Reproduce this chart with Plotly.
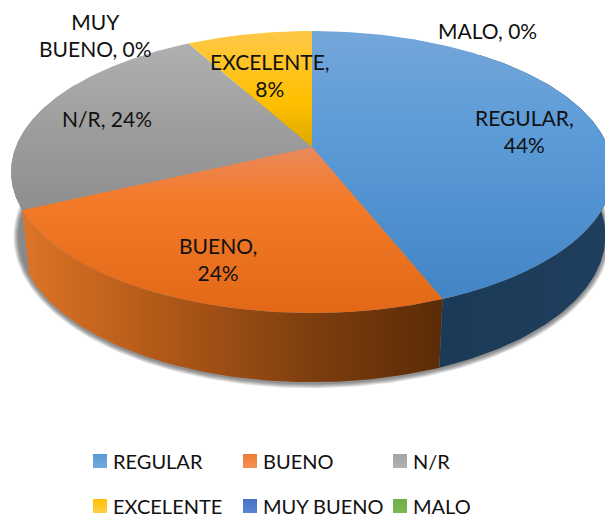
import numpy as np
import plotly.graph_objects as go

categories = ["REGULAR", "BUENO", "N/R", "EXCELENTE", "MUY BUENO", "MALO"]
values = [44, 24, 24, 8, 0, 0]

legend_colors = ["#5b9bd5", "#ed7d31", "#a5a5a5", "#ffc000", "#4472c4", "#70ad47"]
legend_tops = ["#6fa8dc", "#f4905a", "#b0b0b0", "#ffcf4a", "#5a85d0", "#7dba54"]

top_scales = {
    "REGULAR": [[0, "#74a6da"], [0.4, "#5b9bd7"], [1, "#4384c5"]],
    "BUENO": [[0, "#e98a5e"], [0.3, "#f37b2a"], [1, "#e26817"]],
    "N/R": [[0, "#b0b0b0"], [0.55, "#9c9c9c"], [1, "#8e8e8e"]],
    "EXCELENTE": [[0, "#ffc848"], [0.6, "#ffc000"], [1, "#dca900"]],
}
wall_scales = {
    "REGULAR": [[0, "#1b3a57"], [1, "#1f3f5e"]],
    "BUENO": [[0, "#de7426"], [0.35, "#ae5717"], [0.7, "#7c3d0e"], [1, "#5a2b08"]],
    "N/R": [[0, "#8c8c8c"], [1, "#7a7a7a"]],
}

# projection of the pie disc onto the page (pixel-like axes)
CX, APEX_Y, K, A, C = 312.0, 147.0, 296.2, -110.5, 0.1773
WALL_SX, WALL_SY, WALL_DY = 0.975, 1.039, 57.0


def project(theta):
    u, v = np.sin(theta), np.cos(theta)
    d = 1 + C * v
    return CX + K * u / d, (A * v + APEX_Y) / d


def lower(x, y):
    return CX + (x - CX) * WALL_SX, y * WALL_SY + WALL_DY


fig = go.Figure()

# soft shadow under the body
t = np.linspace(0, 2 * np.pi, 361)
bx, by = lower(*project(t))
bcx, bcy = (bx.min() + bx.max()) / 2, (by.min() + by.max()) / 2
rx, ry = (bx.max() - bx.min()) / 2, (by.max() - by.min()) / 2
for d in [5, 4, 3, 2, 1]:
    fig.add_trace(go.Scatter(
        x=bcx + (bx - bcx) * (rx + d) / rx, y=bcy + 1 + (by - bcy) * (ry + d) / ry,
        mode="lines", line=dict(width=0), fill="toself",
        fillcolor="rgba(40,40,40,0.13)", hoverinfo="skip", showlegend=False))

# slice angles from the data
total = sum(values)
edges = np.cumsum([0] + values) / total * 2 * np.pi

# side walls
for name, a0, a1 in zip(categories, edges[:-1], edges[1:]):
    if name not in wall_scales:
        continue
    lo = max(a0, np.radians(40))
    hi = min(a1, np.radians(300))
    th = np.linspace(lo, hi, 120)
    x, y = project(th)
    xb, yb = lower(x, y)
    px = np.r_[x, xb[::-1], x[0]]
    py = np.r_[y, yb[::-1], y[0]]
    fig.add_trace(go.Scatter(
        x=px, y=py, mode="lines", line=dict(width=0), fill="toself",
        fillgradient=dict(type="horizontal", colorscale=wall_scales[name],
                          start=float(px.min()), stop=float(px.max())),
        hoverinfo="skip", showlegend=False))

# top faces
for name, a0, a1 in zip(categories, edges[:-1], edges[1:]):
    if a1 <= a0:
        continue
    th = np.linspace(a0, a1, 200)
    x, y = project(th)
    px = np.r_[CX, x, CX]
    py = np.r_[APEX_Y, y, APEX_Y]
    fig.add_trace(go.Scatter(
        x=px, y=py, mode="lines", line=dict(width=0), fill="toself",
        fillgradient=dict(type="vertical", colorscale=top_scales[name],
                          start=float(py.min()), stop=float(py.max())),
        name=name, hoverinfo="skip", showlegend=False))

# legend entries, two rows
for i, name in enumerate(categories):
    fig.add_trace(go.Scatter(
        x=[None], y=[None], mode="markers", name=name,
        marker=dict(symbol="square", size=14, color=legend_colors[i],
                    gradient=dict(type="vertical", color=legend_tops[i])),
        legend="legend" if i < 3 else "legend2", showlegend=True))

labels = [
    ("MUY<br>BUENO, 0%", 95, 35),
    ("MALO, 0%", 487, 30),
    ("EXCELENTE,<br>8%", 270, 75),
    ("N/R, 24%", 107, 118),
    ("REGULAR,<br>44%", 524, 131),
    ("BUENO,<br>24%", 218, 259),
]
for text, lx, ly in labels:
    fig.add_annotation(x=lx, y=ly, text=text, showarrow=False, align="center",
                       font=dict(family="Lato", size=21, color="#111111"))

leg = dict(orientation="h", xanchor="left", yanchor="middle", entrywidth=105,
           entrywidthmode="pixels", bgcolor="rgba(0,0,0,0)", traceorder="normal",
           itemclick=False, itemdoubleclick=False,
           font=dict(family="Lato", size=20, color="#111111"))

fig.update_layout(
    width=605, height=518, margin=dict(l=0, r=0, t=0, b=0, autoexpand=False),
    paper_bgcolor="white", plot_bgcolor="white",
    xaxis=dict(range=[0, 605], visible=False, fixedrange=True),
    yaxis=dict(range=[518, 0], visible=False, fixedrange=True),
    legend=dict(leg, x=73 / 605, y=1 - 461 / 518),
    legend2=dict(leg, x=73 / 605, y=1 - 506 / 518),
)

# no page margin; swatches sit closer to their text, as in the reference
post = """
document.body.style.margin = '0';
document.querySelectorAll('.legendsymbols').forEach(function (g) {
  g.setAttribute('transform', 'translate(7,0)');
});
"""
fig.write_html("out.html", config=dict(displayModeBar=False), post_script=post)
